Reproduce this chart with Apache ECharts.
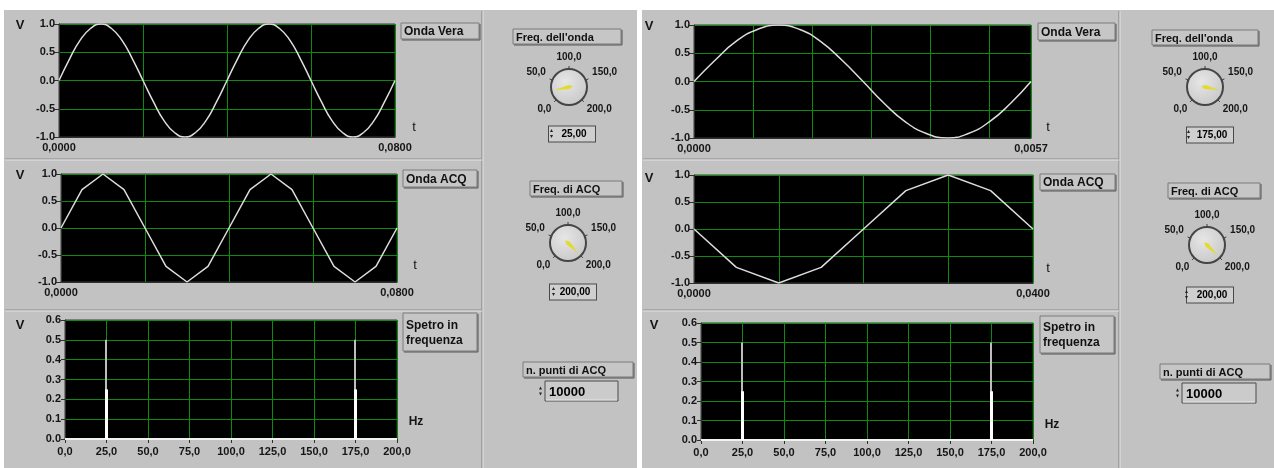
<!DOCTYPE html>
<html><head><meta charset="utf-8">
<script src="https://cdn.jsdelivr.net/npm/echarts@6/dist/echarts.min.js"></script>
<style>html,body{margin:0;padding:0;background:#fff}#c{width:1274px;height:468px}</style>
</head><body><div id="c"></div><script>
// ---- Onda Vera, 25 Hz (left panel)
const veraTimeL = [0,0.0025,0.005,0.0075,0.01,0.0125,0.015,0.0175,0.02,0.0225,0.025,0.0275,0.03,0.0325,0.035,0.0375,0.04,0.0425,0.045,0.0475,0.05,0.0525,0.055,0.0575,0.06,0.0625,0.065,0.0675,0.07,0.0725,0.075,0.0775,0.08];
const veraValL  = [0,0.38,0.71,0.92,1,0.92,0.71,0.38,0,-0.38,-0.71,-0.92,-1,-0.92,-0.71,-0.38,0,0.38,0.71,0.92,1,0.92,0.71,0.38,0,-0.38,-0.71,-0.92,-1,-0.92,-0.71,-0.38,0];
// ---- Onda ACQ, sampled at 200 Hz (left panel)
const acqTimeL = [0,0.005,0.01,0.015,0.02,0.025,0.03,0.035,0.04,0.045,0.05,0.055,0.06,0.065,0.07,0.075,0.08];
const acqValL  = [0,0.71,1,0.71,0,-0.71,-1,-0.71,0,0.71,1,0.71,0,-0.71,-1,-0.71,0];
// ---- Onda Vera, 175 Hz (right panel)
const veraTimeR = [0,0.00036,0.00071,0.00107,0.00143,0.00179,0.00214,0.0025,0.00286,0.00321,0.00357,0.00393,0.00429,0.00464,0.005,0.00536,0.0057];
const veraValR  = [0,0.38,0.71,0.92,1,0.92,0.71,0.38,0,-0.38,-0.71,-0.92,-1,-0.92,-0.71,-0.38,0];
// ---- Onda ACQ, sampled at 200 Hz (right panel)
const acqTimeR = [0,0.005,0.01,0.015,0.02,0.025,0.03,0.035,0.04];
const acqValR  = [0,-0.71,-1,-0.71,0,0.71,1,0.71,0];
// ---- Spettro in frequenza
const specFreqL = [25,175];
const specAmpL  = [0.5,0.5];
const specCoreL = [0.25,0.25];
const specFreqR = [25,175];
const specAmpR  = [0.5,0.5];
const specCoreR = [0.25,0.25];
const specFloor = [0,200];
// ---- Controls
const freqOndaL = 25, freqAcqL = 200, puntiL = 10000;
const freqOndaR = 175, freqAcqR = 200, puntiR = 10000;
const knobTicks = [0,50,100,150,200];
// ---- Axis ranges
const timeMaxVeraL = 0.08, timeStepVeraL = 0.02;
const timeMaxAcqL = 0.08, timeStepAcqL = 0.02;
const timeMaxVeraR = 0.0057, timeStepVeraR = 0.001;
const timeMaxAcqR = 0.04, timeStepAcqR = 0.01;

const zip = (a, b) => a.map((v, i) => [v, b[i]]);
const comma = (v, d) => v.toFixed(d).replace('.', ',');

const FONT = '"Liberation Sans", Arial, sans-serif';
const GRID_GREEN = '#0e8a0e';
const TRACE = '#dcdcdc';
const lbl = { color: '#151515', fontFamily: FONT, fontWeight: 'bold', fontSize: 11 };

const grids = [
  { left: 59,  top: 24,  width: 336, height: 113 },
  { left: 61,  top: 174, width: 336, height: 108 },
  { left: 65,  top: 320, width: 332, height: 119 },
  { left: 694, top: 25,  width: 337, height: 113 },
  { left: 694, top: 175, width: 339, height: 108 },
  { left: 701, top: 323, width: 332, height: 117 }
].map(g => Object.assign({ show: true, backgroundColor: '#000', borderColor: '#3a3a3a', borderWidth: 1 }, g));

function timeAxis(gi, max, step) {
  return {
    type: 'value', gridIndex: gi, min: 0, max: max, interval: step,
    axisLine: { show: true, onZero: false, lineStyle: { color: '#303030' } },
    axisTick: { show: false },
    axisLabel: Object.assign({ margin: 5, customValues: [0, max], formatter: v => comma(v, 4) }, lbl),
    splitLine: { show: true, lineStyle: { color: GRID_GREEN, width: 1 } }
  };
}
function voltAxis(gi) {
  return {
    type: 'value', gridIndex: gi, min: -1, max: 1, interval: 0.5,
    axisLine: { show: true, onZero: false, lineStyle: { color: '#303030' } },
    axisTick: { show: true, length: 5, lineStyle: { color: '#303030' } },
    axisLabel: Object.assign({ margin: 4, formatter: v => v.toFixed(1) }, lbl),
    splitLine: { show: true, lineStyle: { color: GRID_GREEN, width: 1 } }
  };
}
function freqAxis(gi) {
  return {
    type: 'value', gridIndex: gi, min: 0, max: 200, interval: 25,
    axisLine: { show: true, onZero: false, lineStyle: { color: '#303030' } },
    axisTick: { show: true, length: 4, lineStyle: { color: '#303030' } },
    axisLabel: Object.assign({ margin: 7, formatter: v => comma(v, 1) }, lbl),
    splitLine: { show: true, lineStyle: { color: GRID_GREEN, width: 1 } }
  };
}
function ampAxis(gi) {
  return {
    type: 'value', gridIndex: gi, min: 0, max: 0.6, interval: 0.1,
    axisLine: { show: true, onZero: false, lineStyle: { color: '#303030' } },
    axisTick: { show: true, length: 4, lineStyle: { color: '#303030' } },
    axisLabel: Object.assign({ margin: 4, formatter: v => v.toFixed(1) }, lbl),
    splitLine: { show: true, lineStyle: { color: GRID_GREEN, width: 1 } }
  };
}

function wave(ai, data, smooth) {
  return { type: 'line', xAxisIndex: ai, yAxisIndex: ai, data: data, smooth: smooth,
    showSymbol: false, lineStyle: { color: TRACE, width: 1.5 }, animation: false, z: 3 };
}
function spectrum(ai, freq, amp, core) {
  return [
    { type: 'line', xAxisIndex: ai, yAxisIndex: ai, data: zip(specFloor, [0, 0]), showSymbol: false,
      lineStyle: { color: '#f2f2f2', width: 2 }, animation: false, z: 3 },
    { type: 'bar', xAxisIndex: ai, yAxisIndex: ai, data: zip(freq, amp), barWidth: 2,
      itemStyle: { color: '#bdbdbd' }, animation: false, z: 3 },
    { type: 'bar', xAxisIndex: ai, yAxisIndex: ai, data: zip(freq, core), barWidth: 3, barGap: '-100%',
      itemStyle: { color: '#ffffff' }, animation: false, z: 4 }
  ];
}

// ---- knobs: a polar angle axis gives the dial scale, a gauge gives needle and value display
const KNOB_MAX = 200, KNOB_SWEEP = 270;
const knobCenters = [[569, 87], [568, 243], [1205, 87], [1207, 245]];
const knobValues = [freqOndaL, freqAcqL, freqOndaR, freqAcqR];
const knobDetailOffsets = [[3, 47], [5, 49], [5, 48], [3, 50]];
const KNOB_R = 18;

const polars = knobCenters.map(c => ({ center: c, radius: KNOB_R }));
const angleAxes = knobCenters.map((c, i) => ({
  type: 'value', polarIndex: i, min: 0, max: KNOB_MAX * 360 / KNOB_SWEEP, startAngle: 225, clockwise: true,
  axisLine: { show: true, lineStyle: { color: '#454545', width: 2 } },
  axisTick: { show: true, inside: false, length: 3, customValues: knobTicks, lineStyle: { color: '#3c3c3c', width: 1 } },
  axisLabel: { show: true, margin: 7, customValues: knobTicks, formatter: v => comma(v, 1),
    color: '#151515', fontFamily: FONT, fontWeight: 'bold', fontSize: 10 },
  splitLine: { show: false }, splitArea: { show: false }, minorTick: { show: false }
}));
const radiusAxes = knobCenters.map((c, i) => ({ type: 'value', polarIndex: i, min: 0, max: 1, show: false,
  axisLine: { show: false }, axisTick: { show: false }, axisLabel: { show: false }, splitLine: { show: false } }));

function knob(i) {
  return {
    type: 'gauge', center: knobCenters[i], radius: KNOB_R, min: 0, max: KNOB_MAX, startAngle: 225, endAngle: 225 - KNOB_SWEEP,
    splitNumber: 4, animation: false, z: 5,
    axisLine: { show: false }, progress: { show: false }, axisTick: { show: false },
    splitLine: { show: false }, axisLabel: { show: false },
    pointer: { show: true, length: 15, width: 2, offsetCenter: [0, 0], itemStyle: { color: '#e4da2a' } },
    anchor: { show: false }, title: { show: false },
    detail: { show: true, offsetCenter: knobDetailOffsets[i], formatter: v => comma(v, 2),
      color: '#000', fontFamily: FONT, fontWeight: 'bold', fontSize: 10,
      backgroundColor: '#cfcfcf', borderColor: '#4a4a4a', borderWidth: 1,
      width: 38, height: 13, lineHeight: 13, padding: [1, 2, 1, 6], align: 'center' },
    data: [{ value: knobValues[i] }]
  };
}

// ---- decoration helpers
function labelBox(x, y, w, h, text, size) {
  return { type: 'group', children: [
    { type: 'rect', shape: { x: x, y: y, width: w, height: h }, style: { fill: '#c6c6c6', stroke: '#7a7a7a', lineWidth: 1 } },
    { type: 'line', shape: { x1: x + w + 1, y1: y + 1, x2: x + w + 1, y2: y + h + 1 }, style: { stroke: '#555', lineWidth: 1 } },
    { type: 'line', shape: { x1: x + 1, y1: y + h + 1, x2: x + w + 1, y2: y + h + 1 }, style: { stroke: '#555', lineWidth: 1 } },
    { type: 'text', x: x + 3, y: y + h / 2 + 1, style: { text: text, fill: '#111', font: 'bold ' + (size || 12) + 'px ' + FONT,
      verticalAlign: 'middle', lineHeight: 15 } }
  ]};
}
function spinner(x, y) {
  return { type: 'group', z: 100, children: [
    { type: 'polygon', z: 100, shape: { points: [[x, y + 4], [x + 3, y + 4], [x + 1.5, y + 1]] }, style: { fill: '#222' } },
    { type: 'polygon', z: 100, shape: { points: [[x, y + 7], [x + 3, y + 7], [x + 1.5, y + 10]] }, style: { fill: '#222' } }
  ]};
}
function numBox(x, y, w, h, text) {
  return { type: 'group', children: [
    { type: 'rect', shape: { x: x, y: y, width: w, height: h }, style: { fill: '#cbcbcb', stroke: '#4a4a4a', lineWidth: 1 } },
    { type: 'line', shape: { x1: x + 1, y1: y + h - 1, x2: x + w - 1, y2: y + h - 1 }, style: { stroke: '#e6e6e6', lineWidth: 1 } },
    { type: 'text', x: x + 4, y: y + h / 2 + 1, style: { text: text, fill: '#000', font: 'bold 13px ' + FONT, verticalAlign: 'middle' } },
    spinner(x - 6, y + h / 2 - 5.5)
  ]};
}
function txt(x, y, text, size, weight) {
  return { type: 'text', x: x, y: y, style: { text: text, fill: '#151515', font: (weight || 'bold') + ' ' + size + 'px ' + FONT,
    align: 'center', verticalAlign: 'middle' } };
}
function hline(x1, x2, y) {
  return { type: 'group', children: [
    { type: 'line', shape: { x1: x1, y1: y, x2: x2, y2: y }, style: { stroke: '#8c8c8c', lineWidth: 1 } },
    { type: 'line', shape: { x1: x1, y1: y + 1, x2: x2, y2: y + 1 }, style: { stroke: '#e2e2e2', lineWidth: 1 } }
  ]};
}
function vline(x, y1, y2) {
  return { type: 'group', children: [
    { type: 'line', shape: { x1: x, y1: y1, x2: x, y2: y2 }, style: { stroke: '#7e7e7e', lineWidth: 1 } },
    { type: 'line', shape: { x1: x + 1, y1: y1, x2: x + 1, y2: y2 }, style: { stroke: '#e2e2e2', lineWidth: 1 } }
  ]};
}
function knobFace(c) {
  return { type: 'circle', shape: { cx: c[0], cy: c[1], r: KNOB_R },
    style: { fill: { type: 'radial', x: 0.4, y: 0.35, r: 0.8, colorStops: [{ offset: 0, color: '#e6e6e6' }, { offset: 1, color: '#c4c4c4' }] } } };
}

const graphics = [
  // white margins around the two front panels
  { type: 'rect', shape: { x: 0, y: 0, width: 1274, height: 10 }, style: { fill: '#fff' } },
  { type: 'rect', shape: { x: 0, y: 0, width: 4, height: 468 }, style: { fill: '#fff' } },
  { type: 'rect', shape: { x: 637, y: 0, width: 5, height: 468 }, style: { fill: '#fff' } },
  // panel frames
  vline(482, 11, 468), hline(5, 482, 159), hline(5, 482, 310),
  vline(1119, 11, 468), hline(643, 1119, 159), hline(643, 1119, 310),
  // axis titles
  txt(20, 25, 'V', 13), txt(20, 175, 'V', 13), txt(20, 325, 'V', 13),
  txt(649, 26, 'V', 13), txt(649, 178, 'V', 13), txt(654, 325, 'V', 13),
  txt(414, 127, 't', 13, 'normal'), txt(415, 265, 't', 13, 'normal'), txt(416, 422, 'Hz', 12),
  txt(1048, 127, 't', 13, 'normal'), txt(1048, 268, 't', 13, 'normal'), txt(1052, 425, 'Hz', 12),
  // indicator / control labels
  labelBox(401, 23, 78, 16, 'Onda Vera'),
  labelBox(403, 170, 74, 17, 'Onda ACQ'),
  labelBox(403, 313, 74, 38, 'Spetro in\nfrequenza'),
  labelBox(513, 29, 108, 15, "Freq. dell'onda", 11),
  labelBox(530, 181, 92, 15, 'Freq. di ACQ', 11),
  labelBox(523, 362, 110, 15, 'n. punti di ACQ', 11),
  labelBox(1038, 23, 77, 17, 'Onda Vera'),
  labelBox(1040, 174, 75, 16, 'Onda ACQ'),
  labelBox(1040, 316, 74, 37, 'Spetro in\nfrequenza'),
  labelBox(1152, 30, 106, 15, "Freq. dell'onda", 11),
  labelBox(1168, 183, 92, 15, 'Freq. di ACQ', 11),
  labelBox(1160, 364, 110, 15, 'n. punti di ACQ', 11),
  // knob faces
  ...knobCenters.map(knobFace),
  // acquisition points controls
  numBox(545, 381, 73, 20, String(puntiL)),
  numBox(1182, 383, 74, 20, String(puntiR)),
  // spinners of the knob value displays
  spinner(550, 128), spinner(552, 286), spinner(1187, 129), spinner(1185, 289)
];

const chart = echarts.init(document.getElementById('c'), null, { renderer: 'canvas' });
chart.setOption({
  backgroundColor: '#c2c2c2',
  animation: false,
  grid: grids,
  polar: polars,
  angleAxis: angleAxes,
  radiusAxis: radiusAxes,
  xAxis: [
    timeAxis(0, timeMaxVeraL, timeStepVeraL),
    timeAxis(1, timeMaxAcqL, timeStepAcqL),
    freqAxis(2),
    timeAxis(3, timeMaxVeraR, timeStepVeraR),
    timeAxis(4, timeMaxAcqR, timeStepAcqR),
    freqAxis(5)
  ],
  yAxis: [voltAxis(0), voltAxis(1), ampAxis(2), voltAxis(3), voltAxis(4), ampAxis(5)],
  graphic: { elements: graphics },
  series: [
    wave(0, zip(veraTimeL, veraValL), true),
    wave(1, zip(acqTimeL, acqValL), false),
    ...spectrum(2, specFreqL, specAmpL, specCoreL),
    wave(3, zip(veraTimeR, veraValR), true),
    wave(4, zip(acqTimeR, acqValR), false),
    ...spectrum(5, specFreqR, specAmpR, specCoreR),
    knob(0), knob(1), knob(2), knob(3)
  ]
});
</script></body></html>
